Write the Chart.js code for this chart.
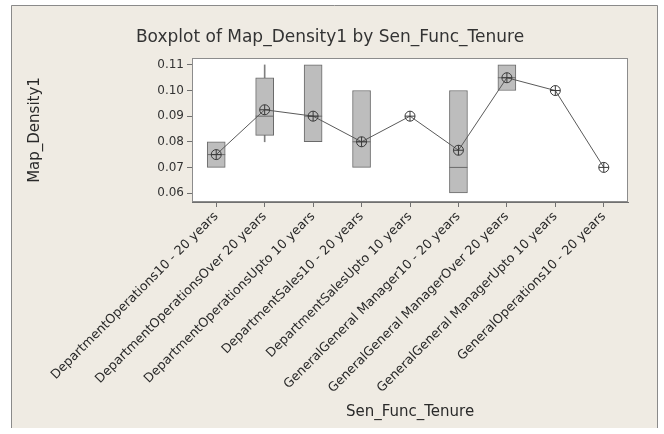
<!DOCTYPE html>
<html>
<head>
<meta charset="utf-8">
<script src="https://cdn.jsdelivr.net/npm/chart.js@4"></script>
<style>
  html, body { margin: 0; padding: 0; background: #ffffff; }
  #wrap { width: 664px; height: 434px; position: relative; }
</style>
</head>
<body>
<div id="wrap"><canvas id="c" width="664" height="434"></canvas></div>
<script>
// Groups along the x axis
const categories = [
  "DepartmentOperations10 - 20 years",
  "DepartmentOperationsOver 20 years",
  "DepartmentOperationsUpto 10 years",
  "DepartmentSales10 - 20 years",
  "DepartmentSalesUpto 10 years",
  "GeneralGeneral Manager10 - 20 years",
  "GeneralGeneral ManagerOver 20 years",
  "GeneralGeneral ManagerUpto 10 years",
  "GeneralOperations10 - 20 years"
];

// Box statistics per group (null where the group has a single value)
const q1 = [0.070, 0.0825, 0.080, 0.070, null, 0.060, 0.100, null, null];
const q3 = [0.080, 0.105, 0.110, 0.100, null, 0.100, 0.110, null, null];
const medians = [0.075, 0.090, 0.090, 0.080, null, 0.070, 0.105, null, null];
const whiskerLow = [null, 0.080, null, null, null, null, null, null, null];
const whiskerHigh = [null, 0.110, null, null, null, null, null, null, null];

// Group means, joined by the connect line
const means = [0.075, 0.0925, 0.090, 0.080, 0.090, 0.0767, 0.105, 0.100, 0.070];

// Value axis ticks
const yTicks = [0.06, 0.07, 0.08, 0.09, 0.10, 0.11];

const boxRanges = q1.map((v, i) => (v === null ? null : [v, q3[i]]));
const whiskerRanges = whiskerLow.map((v, i) => (v === null ? null : [v, whiskerHigh[i]]));

const FONT = "'DejaVu Sans', sans-serif";

const framePlugin = {
  id: 'frame',
  beforeDraw(chart) {
    const { ctx, chartArea: a } = chart;
    ctx.save();
    ctx.fillStyle = '#ffffff';
    ctx.fillRect(0, 0, chart.width, chart.height);
    ctx.fillStyle = '#efebe3';
    ctx.fillRect(11, 5, 647, 423);
    ctx.strokeStyle = '#8a8a8a';
    ctx.lineWidth = 1;
    ctx.beginPath();
    ctx.moveTo(11.5, 428);
    ctx.lineTo(11.5, 5.5);
    ctx.lineTo(657.5, 5.5);
    ctx.lineTo(657.5, 428);
    ctx.stroke();
    ctx.fillStyle = '#ffffff';
    ctx.fillRect(a.left, a.top, a.right - a.left, a.bottom - a.top);
    ctx.restore();
  },
  afterDraw(chart) {
    const { ctx, chartArea: a } = chart;
    ctx.save();
    ctx.strokeStyle = '#8c8c8c';
    ctx.lineWidth = 1;
    ctx.strokeRect(Math.round(a.left) + 0.5, Math.round(a.top) + 0.5,
      Math.round(a.right - a.left) - 1, Math.round(a.bottom - a.top) - 1);
    ctx.restore();
  }
};

new Chart(document.getElementById('c'), {
  data: {
    labels: categories,
    datasets: [
      {
        type: 'bar',
        data: whiskerRanges,
        backgroundColor: '#808080',
        borderWidth: 0,
        barThickness: 1,
        grouped: false,
        order: 5
      },
      {
        type: 'bar',
        data: boxRanges,
        backgroundColor: '#bdbdbd',
        borderColor: '#6a6a6a',
        borderWidth: 1,
        borderSkipped: false,
        barThickness: 18,
        grouped: false,
        order: 4
      },
      {
        type: 'line',
        data: medians,
        showLine: false,
        pointStyle: 'line',
        pointRadius: 9,
        pointHoverRadius: 9,
        pointBorderColor: '#6a6a6a',
        pointBorderWidth: 1,
        order: 3
      },
      {
        type: 'line',
        data: means,
        borderColor: '#5a5a5a',
        borderWidth: 1,
        tension: 0,
        pointStyle: 'circle',
        pointRadius: 5,
        pointBackgroundColor: 'rgba(0,0,0,0)',
        pointBorderColor: '#3a3a3a',
        pointBorderWidth: 1,
        order: 2
      },
      {
        type: 'line',
        data: means,
        showLine: false,
        pointStyle: 'cross',
        pointRadius: 5,
        pointBorderColor: '#3a3a3a',
        pointBorderWidth: 1,
        order: 1
      }
    ]
  },
  options: {
    responsive: false,
    animation: false,
    devicePixelRatio: 1,
    layout: { padding: { left: 32, right: 36, top: 20, bottom: 14 } },
    plugins: {
      legend: { display: false },
      tooltip: { enabled: false },
      title: {
        display: true,
        text: 'Boxplot of Map_Density1 by Sen_Func_Tenure',
        color: '#333333',
        font: { family: FONT, size: 17, weight: 'normal' },
        padding: { top: 7, bottom: 10.6 }
      }
    },
    scales: {
      x: {
        type: 'category',
        offset: true,
        grid: { display: true, offset: false, drawOnChartArea: false, tickLength: 5, color: '#707070' },
        border: { display: true, color: '#707070' },
        ticks: {
          autoSkip: false,
          minRotation: 45,
          maxRotation: 45,
          color: '#2a2a2a',
          padding: 2,
          font: { family: FONT, size: 12.7 }
        },
        title: {
          display: true,
          text: 'Sen_Func_Tenure',
          color: '#2a2a2a',
          font: { family: FONT, size: 15 },
          padding: { top: 4, bottom: -1 }
        },
        afterFit(scale) { scale.height = 434 - 14 - 202; }
      },
      y: {
        type: 'linear',
        min: 0.0565,
        max: 0.1127,
        grid: { display: true, drawOnChartArea: false, tickLength: 5, color: '#707070' },
        border: { display: true, color: '#707070' },
        afterBuildTicks(scale) { scale.ticks = yTicks.map(v => ({ value: v })); },
        ticks: {
          color: '#333333',
          padding: 3,
          font: { family: FONT, size: 12 },
          callback: v => Number(v).toFixed(2)
        },
        title: {
          display: true,
          text: 'Map_Density1',
          color: '#2a2a2a',
          font: { family: FONT, size: 15 },
          padding: { top: -6, bottom: 0 }
        },
        afterFit(scale) { scale.width = 192 - 32; }
      }
    }
  },
  plugins: [framePlugin]
});
</script>
</body>
</html>
